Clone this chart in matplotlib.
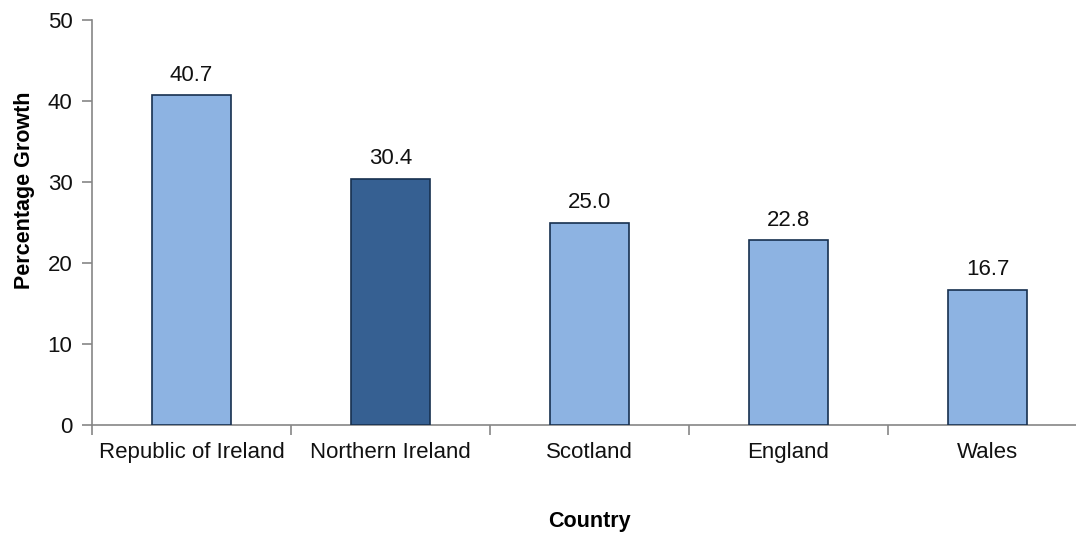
import numpy as np
import matplotlib.pyplot as plt

# data
countries = ['Republic of Ireland', 'Northern Ireland', 'Scotland', 'England', 'Wales']
growth = [40.7, 30.4, 25.0, 22.8, 16.7]
bar_colors = ['#8DB3E2', '#366092', '#8DB3E2', '#8DB3E2', '#8DB3E2']
y_ticks = [0, 10, 20, 30, 40, 50]

plt.rcParams['font.family'] = ['Liberation Sans', 'DejaVu Sans']

fig = plt.figure(figsize=(10.76, 5.33), dpi=100)
# right edge runs past the canvas like in the original
ax = fig.add_axes([92 / 1076, 108 / 533, 995 / 1076, 405 / 533])

x = np.arange(len(countries))
bars = ax.bar(x, growth, width=0.4, color=bar_colors, edgecolor='#17304F', linewidth=1.2, zorder=3)
ax.bar_label(bars, labels=[f'{v:.1f}' for v in growth], padding=7, fontsize=16, color='#111111')

ax.set_xlim(-0.5, len(countries) - 0.5)
ax.set_ylim(0, 50)
ax.set_yticks(y_ticks)

# x ticks sit between categories, labels centred on bars
ax.set_xticks(np.arange(-0.5, len(countries)), labels=[])
ax.set_xticks(x, labels=countries, minor=True)
ax.tick_params(axis='x', which='major', direction='out', length=7, width=1.2, color='#868686')
ax.tick_params(axis='x', which='minor', length=0, pad=12.5, labelsize=16, labelcolor='#111111')
ax.tick_params(axis='y', direction='out', length=7, width=1.2, color='#868686', pad=7,
               labelsize=16, labelcolor='#111111')

for side in ['top', 'right']:
    ax.spines[side].set_visible(False)
for side in ['left', 'bottom']:
    ax.spines[side].set_color('#868686')
    ax.spines[side].set_linewidth(1.2)

ax.set_ylabel('Percentage Growth', fontsize=15.5, fontweight='bold')
ax.yaxis.set_label_coords(-0.057, 0.58)
ax.set_xlabel('Country', fontsize=15.5, fontweight='bold')
ax.xaxis.set_label_coords(0.5, -0.212)

fig.savefig('out.png', dpi=100)
